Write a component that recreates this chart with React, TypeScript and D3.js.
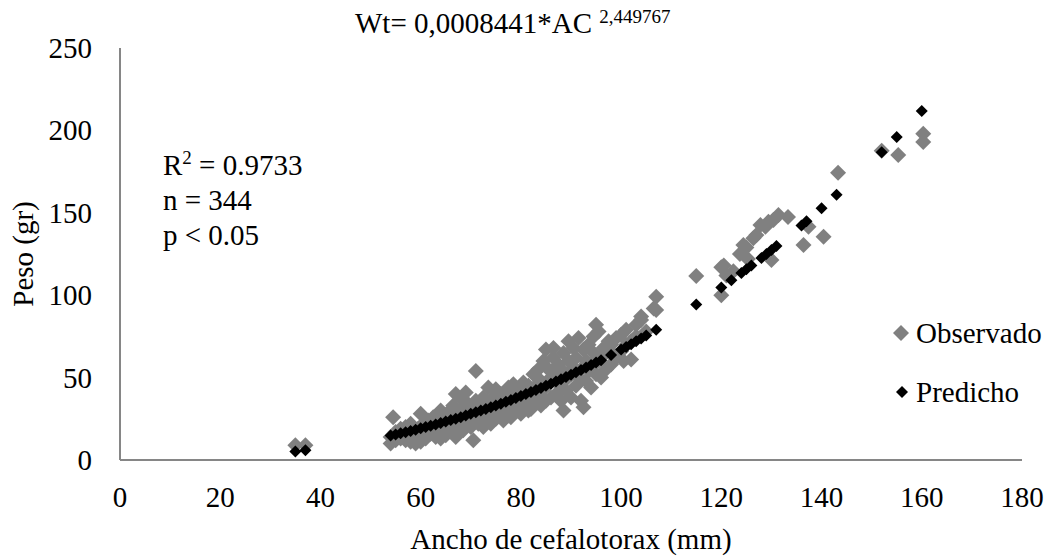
import React from "react";
import * as d3 from "d3";

const xTicks = [0, 20, 40, 60, 80, 100, 120, 140, 160, 180];
const yTicks = [0, 50, 100, 150, 200, 250];

const titleMain = "Wt= 0,0008441*AC ";
const titleExp = "2,449767";
const xTitle = "Ancho de cefalotorax (mm)";
const yTitle = "Peso (gr)";
const seriesNames = ["Observado", "Predicho"];
const statN = "n = 344";
const statP = "p < 0.05";
const statR = "= 0.9733";

const observado: [number, number][] = [
  [35, 9], [37, 9],
  [54, 10], [54, 14], [54.5, 26], [55, 12], [55, 17],
  [56, 13], [56, 19], [56.5, 15], [57, 12], [57, 20], [57.5, 17],
  [58, 11], [58, 16], [58, 22], [59, 10], [59, 14], [59.5, 19],
  [60, 28], [60, 11], [60, 17], [60.5, 22], [61, 13], [61, 20], [61.5, 24],
  [62, 16], [62, 21], [62.5, 26], [63, 14], [63, 19], [63.5, 24],
  [64, 30], [64, 13], [64, 22], [64.5, 17], [65, 15], [65, 25], [65.5, 20], [65.5, 29],
  [66, 18], [66, 23], [66.5, 33], [67, 14], [67, 40], [67, 26], [67.5, 20],
  [68, 24], [68, 30], [68.5, 36], [68.5, 18], [69, 22], [69, 41], [69.5, 27], [69.5, 34],
  [70, 20], [70, 30], [70.5, 12], [70.5, 25], [71, 54], [71, 28], [71, 36], [71.5, 22],
  [72, 25], [72, 32], [72.5, 38], [72.5, 20], [73, 27], [73, 35], [73.5, 30], [73.5, 44],
  [74, 22], [74, 33], [74.5, 38], [74.5, 28], [75, 43], [75, 25], [75.5, 31], [75.5, 36],
  [76, 29], [76, 40], [76.5, 34], [76.5, 24], [77, 31], [77, 37], [77.5, 44], [77.5, 27],
  [78, 26], [78, 35], [78.5, 40], [78.5, 46], [79, 30], [79, 38], [79.5, 33], [79.5, 43],
  [80, 28], [80, 36], [80.5, 41], [80.5, 47], [81, 33], [81, 39], [81.5, 45], [81.5, 30],
  [82, 31], [82, 42], [82.5, 37], [82.5, 52], [83, 35], [83, 45], [83.5, 40], [83.5, 55],
  [84, 33], [84, 48], [84.5, 43], [84.5, 60], [85, 67], [85, 36], [85.5, 46], [85.5, 55],
  [86, 38], [86, 50], [86.5, 62], [86.5, 68], [87, 40], [87, 52], [87.5, 46], [87.5, 58],
  [88, 36], [88, 55], [88.5, 30], [88.5, 65], [89, 42], [89, 49], [89.5, 60], [89.5, 72],
  [90, 38], [90, 52], [90.5, 56], [90.5, 68], [91, 45], [91, 62], [91.5, 50], [91.5, 74],
  [92, 36], [92, 55], [92.5, 32], [92.5, 67], [93, 48], [93, 60], [93.5, 54], [93.5, 70],
  [94, 44], [94, 58], [94.5, 65], [94.5, 75], [95, 52], [95, 82], [95.5, 60], [95.5, 78],
  [96, 50], [96, 62], [96.5, 68], [97, 55], [97, 66], [97.5, 72], [98, 70], [98, 58], [98.5, 64],
  [99, 62], [99, 74], [100, 66], [100, 76], [100.5, 60], [101, 79], [101, 70],
  [102, 61], [102, 72], [103, 75], [103, 82], [104, 85], [104, 87], [105, 78],
  [106.5, 92], [107, 99], [107, 91],
  [115, 111.7], [120, 100], [120, 117], [120.5, 118], [121, 112], [122.4, 114.6],
  [123.7, 125], [124.4, 130.5], [125, 129], [125.3, 122], [126.4, 134.5], [127, 136.5],
  [127.8, 142.6], [128.8, 141.6], [129.4, 144.6], [130, 121.4], [130.4, 145.6], [131.4, 148.6],
  [133.3, 147.5], [136.4, 130.5], [137.4, 141.6], [140.4, 135.5], [143.3, 174.3],
  [152, 187.7], [155.3, 185.1], [160.3, 198], [160.3, 193],
];

const predicho: [number, number][] = [
  [35, 5.1], [37, 5.9],
  [54, 14.8], [55, 15.5], [56, 16.2], [57, 16.9], [58, 17.6], [59, 18.4], [60, 19.2],
  [61, 20.0], [62, 20.8], [63, 21.6], [64, 22.4], [65, 23.3], [66, 24.2], [67, 25.1],
  [68, 26.0], [69, 27.0], [70, 28.0], [71, 28.9], [72, 30.0], [73, 31.0], [74, 32.0],
  [75, 33.1], [76, 34.2], [77, 35.3], [78, 36.4], [79, 37.6], [80, 38.8], [81, 40.0],
  [82, 41.2], [83, 42.4], [84, 43.7], [85, 45.0], [86, 46.3], [87, 47.6], [88, 49.0],
  [89, 50.3], [90, 51.7], [91, 53.2], [92, 54.6], [93, 56.1], [94, 57.6], [95, 59.1],
  [96, 60.6], [98, 63.7], [100, 67.0], [101, 68.6], [102, 70.3], [103, 72.0],
  [104, 73.7], [105, 75.5], [107, 79.1],
  [115, 94.3], [120, 104.7], [122, 109.0], [124, 113.5], [125, 115.7], [126, 118.0],
  [128, 122.6], [129, 125.0], [130, 127.4], [131, 129.8],
  [136, 142.3], [137, 144.8], [140, 152.7], [143, 160.9],
  [152, 186.8], [155, 196.0], [160, 211.8],
];

const FONT = "'Liberation Serif', 'Times New Roman', serif";
const GRAY = "#808080";
const AXIS = "#868686";

const diamond = (r: number) => `M0,${-r}L${r},0L0,${r}L${-r},0Z`;

export default function App() {
  const W = 1051;
  const H = 556;
  const x = d3.scaleLinear().domain([0, 180]).range([120, 1022]);
  const y = d3.scaleLinear().domain([0, 250]).range([460, 48]);
  const fs = 29;

  return (
    <svg
      width={W}
      height={H}
      style={{ position: "absolute", left: 0, top: 0, display: "block", background: "#fff" }}
      fontFamily={FONT}
    >
      <rect x={0} y={0} width={W} height={H} fill="#fff" />
      {/* title */}
      <text x={355} y={33} fontSize={fs} fill="#000">
        <tspan>{titleMain}</tspan>
        <tspan dy={-10} fontSize={19}>{titleExp}</tspan>
      </text>

      {/* axes */}
      <line x1={x(0)} x2={x(0)} y1={y(250)} y2={y(0)} stroke={AXIS} strokeWidth={2} />
      <line x1={x(0)} x2={x(180)} y1={y(0)} y2={y(0)} stroke={AXIS} strokeWidth={2} />

      {yTicks.map((t) => (
        <text key={"y" + t} x={92} y={y(t) + 10} fontSize={fs} textAnchor="end" fill="#000">
          {t}
        </text>
      ))}
      {xTicks.map((t) => (
        <text key={"x" + t} x={x(t)} y={507} fontSize={fs} textAnchor="middle" fill="#000">
          {t}
        </text>
      ))}

      <text x={571} y={549} fontSize={fs} textAnchor="middle" fill="#000">
        {xTitle}
      </text>
      <text
        transform={`translate(33,254) rotate(-90)`}
        fontSize={fs}
        textAnchor="middle"
        fill="#000"
      >
        {yTitle}
      </text>

      {/* stats */}
      <text x={163} y={175} fontSize={fs} fill="#000">
        <tspan>R</tspan>
        <tspan dy={-11} fontSize={19}>2</tspan>
        <tspan dy={11}> {statR}</tspan>
      </text>
      <text x={163} y={210} fontSize={fs} fill="#000">{statN}</text>
      <text x={163} y={245} fontSize={fs} fill="#000">{statP}</text>

      {/* observed */}
      <g fill={GRAY}>
        {observado.map((d, i) => (
          <path key={"o" + i} d={diamond(8)} transform={`translate(${x(d[0])},${y(d[1])})`} />
        ))}
      </g>
      {/* predicted */}
      <g fill="#000">
        {predicho.map((d, i) => (
          <path key={"p" + i} d={diamond(6)} transform={`translate(${x(d[0])},${y(d[1])})`} />
        ))}
      </g>

      {/* legend */}
      <path d={diamond(8)} transform="translate(901,333)" fill={GRAY} />
      <text x={916} y={343} fontSize={fs} fill="#000">{seriesNames[0]}</text>
      <path d={diamond(6)} transform="translate(902,392)" fill="#000" />
      <text x={916} y={402} fontSize={fs} fill="#000">{seriesNames[1]}</text>
    </svg>
  );
}
